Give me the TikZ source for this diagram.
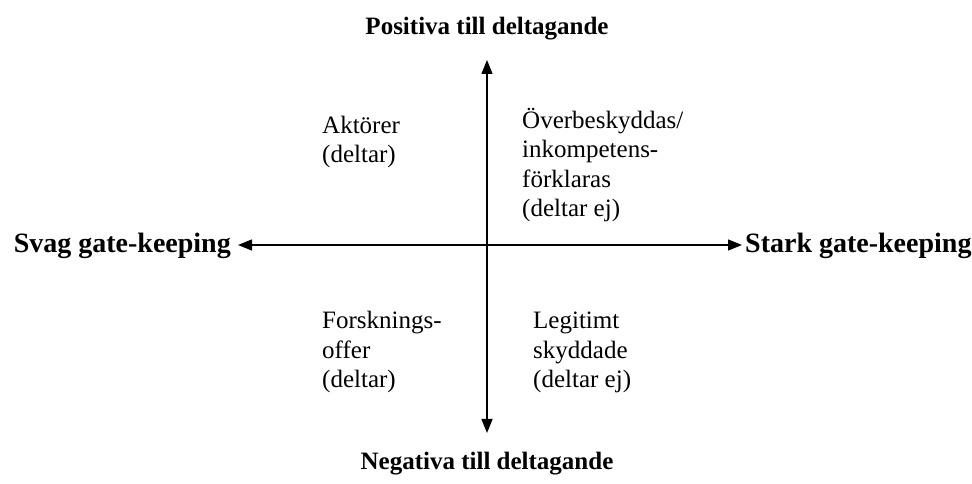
\documentclass[tikz,border=0pt]{standalone}
\usepackage{fontspec}
\setmainfont{Liberation Serif}
\usetikzlibrary{arrows.meta}

\tikzset{
  axis/.style={line width=1.4pt, {Triangle[length=14pt,width=11pt]}-{Triangle[length=14pt,width=11pt]}},
  poletext/.style={font=\fontsize{28}{32}\selectfont\bfseries, inner sep=0pt},
  vpoletext/.style={poletext, font=\fontsize{25}{30}\selectfont\bfseries},
  quadtext/.style={font=\fontsize{25}{29.5}\selectfont, align=left, inner sep=0pt, anchor=base west}
}

\begin{document}
\begin{tikzpicture}[x=1pt, y=1pt]
            \useasboundingbox (0,0) rectangle (972,484);

            % axis ends
            \coordinate (west) at (238,239);
            \coordinate (east) at (742,239);
            \coordinate (north) at (487,424);
            \coordinate (south) at (487,51);

            \draw[axis] (west) -- (east);
            \draw[axis] (north) -- (south);

            % pole labels
            \node[vpoletext, anchor=base] (pos) at (487,449) {Positiva till deltagande};
            \node[vpoletext, anchor=base] (neg) at (487,14) {Negativa till deltagande};
            \node[poletext, anchor=base east] (svag) at (231,231) {Svag gate-keeping};
            \node[poletext, anchor=base west] (stark) at (745,231) {Stark gate-keeping};

            % quadrants (base = last line)
            \node[quadtext] (akt) at (322,321) {Aktörer\\(deltar)};
            \node[quadtext] (over) at (522,267) {Överbeskyddas/\\inkompetens-\\förklaras\\(deltar ej)};
            \node[quadtext] (offer) at (322,96) {Forsknings-\\offer\\(deltar)};
            \node[quadtext] (legit) at (533,96) {Legitimt\\skyddade\\(deltar ej)};
        \end{tikzpicture}
\end{document}
